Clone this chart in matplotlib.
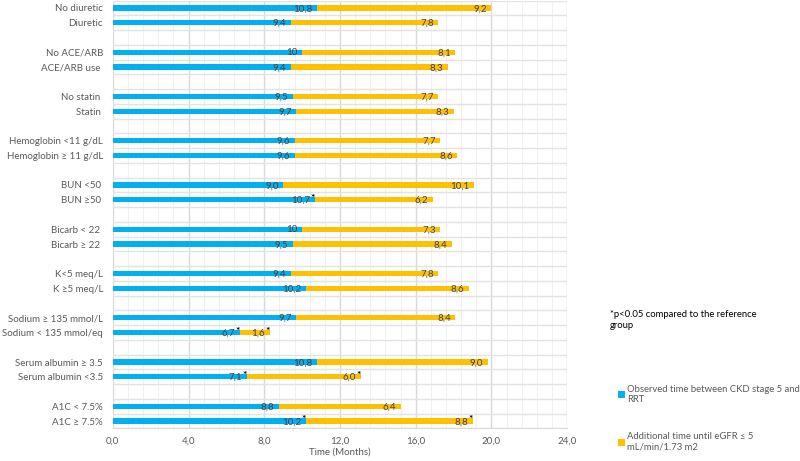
import matplotlib.pyplot as plt
import numpy as np

plt.rcParams["font.family"] = ["Lato", "DejaVu Sans"]

categories = [
    "No diuretic", "Diuretic",
    "No ACE/ARB", "ACE/ARB use ",
    "No statin ", "Statin ",
    "Hemoglobin <11 g/dL", "Hemoglobin \u2265 11 g/dL",
    "BUN <50 ", "BUN \u226550 ",
    "Bicarb < 22 ", "Bicarb \u2265 22 ",
    "K<5 meq/L", "K \u22655 meq/L",
    "Sodium \u2265 135 mmol/L", "Sodium < 135 mmol/eq",
    "Serum albumin \u2265 3.5", "Serum albumin <3.5",
    "A1C < 7.5%", "A1C \u2265 7.5%",
]
observed = [10.8, 9.4, 10.0, 9.4, 9.5, 9.7, 9.6, 9.6, 9.0, 10.7,
            10.0, 9.5, 9.4, 10.2, 9.7, 6.7, 10.8, 7.1, 8.8, 10.2]
additional = [9.2, 7.8, 8.1, 8.3, 7.7, 8.3, 7.7, 8.6, 10.1, 6.2,
              7.3, 8.4, 7.8, 8.6, 8.4, 1.6, 9.0, 6.0, 6.4, 8.8]
obs_labels = ["10,8", "9,4", "10", "9,4", "9,5", "9,7", "9,6", "9,6", "9,0", "10,7",
              "10", "9,5", "9,4", "10,2", "9,7", "6,7", "10,8", "7,1", "8,8", "10,2"]
add_labels = ["9,2", "7,8", "8,1", "8,3", "7,7", "8,3", "7,7", "8,6", "10,1", "6,2",
              "7,3", "8,4", "7,8", "8,6", "8,4", "1,6", "9,0", "6,0", "6,4", "8,8"]
obs_sig = [0, 0, 0, 0, 0, 0, 0, 0, 0, 1, 0, 0, 0, 0, 0, 1, 0, 1, 0, 1]
add_sig = [0, 0, 0, 0, 0, 0, 0, 0, 0, 0, 0, 0, 0, 0, 0, 1, 0, 1, 0, 1]
xticks = [0, 4, 8, 12, 16, 20, 24]

BLUE = "#00B0F0"
GOLD = "#FFC000"
GRAY = "#595959"
FS = 7.0

n = len(categories)
pos = np.array([3 * (i // 2) + i % 2 for i in range(n)])
nrows = pos.max() + 1

fig = plt.figure(figsize=(8, 4.61), dpi=100)
ax = fig.add_axes([0.141, 0.0707, 0.568, 0.928])

obs = np.array(observed)
add = np.array(additional)
h = 0.36
ax.barh(pos, obs, h, color=BLUE, label="Observed time between CKD stage 5 and\nRRT", zorder=3)
ax.barh(pos, add, h, left=obs, color=GOLD,
        label="Additional time until eGFR \u2264 5\nmL/min/1.73 m2", zorder=3)

# data labels (inside end) + significance stars
dx = 0.25
for i in range(n):
    e1 = obs[i]
    e2 = obs[i] + add[i]
    ax.text(e1 - dx, pos[i] + 0.05, obs_labels[i], ha="right", va="center",
            fontsize=FS, color="#404040", zorder=4)
    ax.text(e2 - dx, pos[i] + 0.05, add_labels[i], ha="right", va="center",
            fontsize=FS, color="#404040", zorder=4)
    if obs_sig[i]:
        ax.text(e1 - 0.12, pos[i] - 0.1, "*", ha="center", va="center",
                fontsize=7.5, color="black", fontweight="bold", zorder=5)
    if add_sig[i]:
        ax.text(e2 - 0.12, pos[i] - 0.1, "*", ha="center", va="center",
                fontsize=7.5, color="black", fontweight="bold", zorder=5)

ax.set_xlim(0, 24)
ax.set_ylim(nrows - 0.5, -0.5)
ax.set_xticks(xticks)
ax.set_xticklabels([f"{t:.1f}".replace(".", ",") for t in xticks], fontsize=FS, color=GRAY)
ax.set_xticks(np.arange(0, 24.01, 0.8), minor=True)
ax.set_yticks(pos)
ax.set_yticklabels(categories, fontsize=FS, color=GRAY)
ax.set_yticks(np.arange(-0.5, nrows, 1), minor=True)
ax.tick_params(axis="both", which="both", length=0)
ax.tick_params(axis="y", pad=7)
ax.tick_params(axis="x", pad=6)

ax.grid(True, axis="x", which="major", color="#D9D9D9", lw=1.0, zorder=1)
ax.grid(True, axis="x", which="minor", color="#F0F0F0", lw=0.8, zorder=0)
ax.grid(True, axis="y", which="minor", color="#E3E3E3", lw=1.0, zorder=1)
ax.grid(False, axis="y", which="major")
for s in ["top", "left", "right"]:
    ax.spines[s].set_visible(False)
ax.spines["bottom"].set_color("#D9D9D9")

ax.set_xlabel("Time (Months)", fontsize=FS, color=GRAY, labelpad=1)

fig.text(0.7625, 0.306, "*p<0.05 compared to the reference\ngroup", fontsize=6.8,
         color="black", ha="left", va="center", linespacing=1.4)

ax.legend(loc="upper left", bbox_to_anchor=(1.093, 0.122), frameon=False, fontsize=6.8,
          labelcolor=GRAY, handlelength=0.7, handleheight=0.7, handletextpad=0.3,
          labelspacing=3.0)

fig.savefig("out.png", dpi=100)
